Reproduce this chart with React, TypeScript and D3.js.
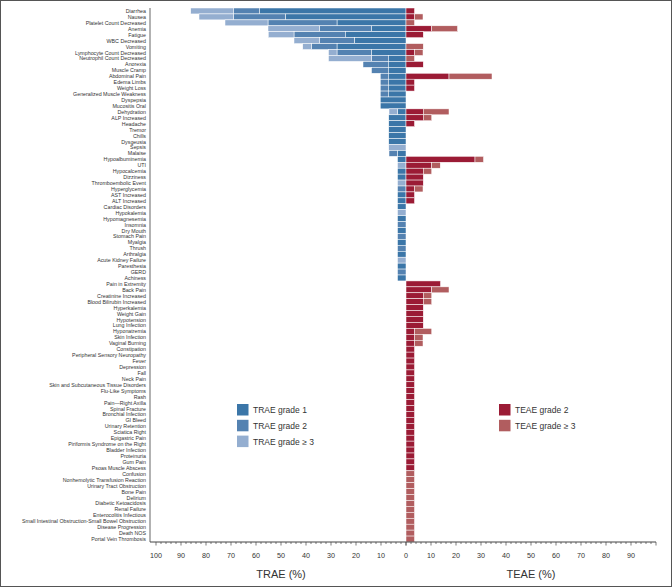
import React from "react";
import * as d3 from "d3";

const categories = [
  "Diarrhea","Nausea","Platelet Count Decreased","Anemia","Fatigue","WBC Decreased","Vomiting",
  "Lymphocyte Count Decreased","Neutrophil Count Decreased","Anorexia","Muscle Cramp","Abdominal Pain",
  "Edema Limbs","Weight Loss","Generalized Muscle Weakness","Dyspepsia","Mucositis Oral","Dehydration",
  "ALP Increased","Headache","Tremor","Chills","Dysgeusia","Sepsis","Malaise","Hypoalbuminemia","UTI",
  "Hypocalcemia","Dizziness","Thromboembolic Event","Hyperglycemia","AST Increased","ALT Increased",
  "Cardiac Disorders","Hypokalemia","Hypomagnesemia","Insomnia","Dry Mouth","Stomach Pain","Myalgia",
  "Thrush","Arthralgia","Acute Kidney Failure","Paresthesia","GERD","Achiness","Pain in Extremity",
  "Back Pain","Creatinine Increased","Blood Bilirubin Increased","Hyperkalemia","Weight Gain",
  "Hypotension","Lung Infection","Hyponatremia","Skin Infection","Vaginal Burning","Constipation",
  "Peripheral Sensory Neuropathy","Fever","Depression","Fall","Neck Pain",
  "Skin and Subcutaneous Tissue Disorders","Flu-Like Symptoms","Rash","Pain\u2014Right Axilla",
  "Spinal Fracture","Bronchial Infection","GI Bleed","Urinary Retention","Sciatica Right",
  "Epigastric Pain","Piriformis Syndrome on the Right","Bladder Infection","Proteinuria","Gum Pain",
  "Psoas Muscle Abscess","Confusion","Nonhemolytic Transfusion Reaction","Urinary Tract Obstruction",
  "Bone Pain","Delirium","Diabetic Ketoacidosis","Renal Failure","Enterocolitis Infectious",
  "Small Intestinal Obstruction-Small Bowel Obstruction","Disease Progression","Death NOS",
  "Portal Vein Thrombosis"
];

// TRAE (%) by grade
const traeGrade1 = [
  58.6,48.3,27.6,13.8,24.1,20.7,27.6,13.8,6.9,6.9,6.9,6.9,6.9,6.9,6.9,10.3,10.3,3.4,
  6.9,6.9,6.9,6.9,6.9,0,3.4,3.4,0,3.4,3.4,0,0,3.4,3.4,3.4,0,3.4,0,3.4,0,3.4,0,3.4,0,3.4,0,3.4,
  0,0,0,0,0,0,0,0,0,0,0,0,0,0,0,0,0,0,0,0,0,0,0,0,0,0,0,0,0,0,0,0,0,0,0,0,0,0,0,0,0,0,0,0
];
const traeGrade2 = [
  10.3,20.7,27.6,20.7,20.7,13.8,10.3,13.8,6.9,10.3,6.9,3.4,3.4,3.4,3.4,0,0,0,
  0,0,0,0,0,0,3.4,0,0,0,0,0,3.4,0,0,0,0,0,3.4,0,3.4,0,3.4,0,0,0,3.4,0,
  0,0,0,0,0,0,0,0,0,0,0,0,0,0,0,0,0,0,0,0,0,0,0,0,0,0,0,0,0,0,0,0,0,0,0,0,0,0,0,0,0,0,0,0
];
const traeGrade3 = [
  17.2,13.8,17.2,20.7,10.3,10.3,3.4,3.4,17.2,0,0,0,0,0,0,0,0,3.4,
  0,0,0,0,0,6.9,0,0,3.4,0,0,3.4,0,0,0,0,3.4,0,0,0,0,0,0,0,3.4,0,0,0,
  0,0,0,0,0,0,0,0,0,0,0,0,0,0,0,0,0,0,0,0,0,0,0,0,0,0,0,0,0,0,0,0,0,0,0,0,0,0,0,0,0,0,0,0
];
// TEAE (%) by grade
const teaeGrade2 = [
  3.4,3.4,0,10.3,6.9,0,0,3.4,0,6.9,0,17.2,3.4,3.4,0,0,0,6.9,6.9,3.4,0,0,0,0,0,
  27.6,10.3,6.9,6.9,6.9,3.4,3.4,3.4,0,0,0,0,0,0,0,0,0,0,0,0,0,
  13.8,10.3,6.9,6.9,6.9,6.9,6.9,6.9,3.4,3.4,3.4,3.4,
  3.4,3.4,3.4,3.4,3.4,3.4,3.4,3.4,3.4,3.4,3.4,3.4,3.4,3.4,3.4,3.4,3.4,3.4,3.4,3.4,
  0,0,0,0,0,0,0,0,0,0,0,0
];
const teaeGrade3 = [
  0,3.4,3.4,10.3,0,0,6.9,3.4,3.4,0,0,17.2,0,0,0,0,0,10.3,3.4,0,0,0,0,0,0,
  3.4,3.4,3.4,0,0,3.4,0,0,0,0,0,0,0,0,0,0,0,0,0,0,0,
  0,6.9,3.4,3.4,0,0,0,0,6.9,3.4,3.4,0,
  0,0,0,0,0,0,0,0,0,0,0,0,0,0,0,0,0,0,0,0,
  3.4,3.4,3.4,3.4,3.4,3.4,3.4,3.4,3.4,3.4,3.4,3.4
];

const leftTicks = [100, 90, 80, 70, 60, 50, 40, 30, 20, 10];
const rightTicks = [0, 10, 20, 30, 40, 50, 60, 70, 80, 90];

const traeSeries = [
  { key: "TRAE grade 1", values: traeGrade1, color: "#3b76a8" },
  { key: "TRAE grade 2", values: traeGrade2, color: "#5482b1" },
  { key: "TRAE grade \u2265 3", values: traeGrade3, color: "#94aed0" },
];
const teaeSeries = [
  { key: "TEAE grade 2", values: teaeGrade2, color: "#9b1b35" },
  { key: "TEAE grade \u2265 3", values: teaeGrade3, color: "#b15d5f" },
];

const W = 672, H = 587;
const zeroX = 406;
const top = 8, bottom = 542;
const font = "'Liberation Sans', Arial, Helvetica, sans-serif";

export default function App() {
  const xL = d3.scaleLinear().domain([0, 100]).range([zeroX, zeroX - 250]);
  const xR = d3.scaleLinear().domain([0, 100]).range([zeroX, zeroX + 250]);
  const y = d3.scaleBand<string>().domain(categories).range([top, bottom]).padding(0);
  const bw = y.bandwidth();

  const rects: JSX.Element[] = [];
  categories.forEach((c, i) => {
    let cum = 0;
    traeSeries.forEach((s, si) => {
      const v = s.values[i];
      if (v > 0) {
        const x0 = xL(cum + v), x1 = xL(cum);
        rects.push(
          <rect key={`l${i}-${si}`} x={x0} y={y(c)} width={x1 - x0} height={bw}
            fill={s.color} stroke="#fff" strokeWidth={0.5} />
        );
      }
      cum += v;
    });
    let cr = 0;
    teaeSeries.forEach((s, si) => {
      const v = s.values[i];
      if (v > 0) {
        const x0 = xR(cr), x1 = xR(cr + v);
        rects.push(
          <rect key={`r${i}-${si}`} x={x0} y={y(c)} width={x1 - x0} height={bw}
            fill={s.color} stroke="#fff" strokeWidth={0.5} />
        );
      }
      cr += v;
    });
  });

  const minorL = d3.range(0, 101, 2);
  const minorR = d3.range(0, 101, 2);

  return (
    <div style={{ position: "absolute", left: 0, top: 0 }}>
      <svg width={W} height={H} style={{ display: "block" }}>
        <rect x={0} y={0} width={W} height={H} fill="#fff" />
        {rects}
        {categories.map((c) => (
          <text key={c} x={146} y={(y(c) as number) + bw / 2} textAnchor="end"
            dominantBaseline="central" fontSize={5.3} fontFamily={font} fill="#333">{c}</text>
        ))}
        <line x1={150} x2={150} y1={top} y2={bottom} stroke="#666" strokeWidth={1} />
        <line x1={150} x2={656} y1={bottom} y2={bottom} stroke="#444" strokeWidth={1} />
        {minorL.map((t) => (
          <line key={`ml${t}`} x1={xL(t)} x2={xL(t)} y1={bottom} y2={bottom + (t % 10 === 0 ? 3.5 : 2)}
            stroke="#444" strokeWidth={0.7} />
        ))}
        {minorR.map((t) => (
          <line key={`mr${t}`} x1={xR(t)} x2={xR(t)} y1={bottom} y2={bottom + (t % 10 === 0 ? 3.5 : 2)}
            stroke="#444" strokeWidth={0.7} />
        ))}
        {leftTicks.map((t) => (
          <text key={`tl${t}`} x={xL(t)} y={555} textAnchor="middle" dominantBaseline="central"
            fontSize={7.2} fontFamily={font} fill="#333">{t}</text>
        ))}
        {rightTicks.map((t) => (
          <text key={`tr${t}`} x={xR(t)} y={555} textAnchor="middle" dominantBaseline="central"
            fontSize={7.2} fontFamily={font} fill="#333">{t}</text>
        ))}
        <text x={xL(50)} y={578} textAnchor="middle" fontSize={11} fontFamily={font} fill="#333">TRAE (%)</text>
        <text x={xR(50)} y={578} textAnchor="middle" fontSize={11} fontFamily={font} fill="#333">TEAE (%)</text>

        {traeSeries.map((s, i) => (
          <g key={s.key} transform={`translate(237, ${404 + i * 15.8})`}>
            <rect width={11.5} height={11.5} fill={s.color} />
            <text x={16} y={6} dominantBaseline="central" fontSize={8.5} fontFamily={font} fill="#333">{s.key}</text>
          </g>
        ))}
        {teaeSeries.map((s, i) => (
          <g key={s.key} transform={`translate(499, ${404 + i * 15.8})`}>
            <rect width={11.5} height={11.5} fill={s.color} />
            <text x={16} y={6} dominantBaseline="central" fontSize={8.5} fontFamily={font} fill="#333">{s.key}</text>
          </g>
        ))}
        <rect x={0.5} y={0.5} width={W - 1} height={H - 1} fill="none" stroke="#555" strokeWidth={1} />
      </svg>
    </div>
  );
}
